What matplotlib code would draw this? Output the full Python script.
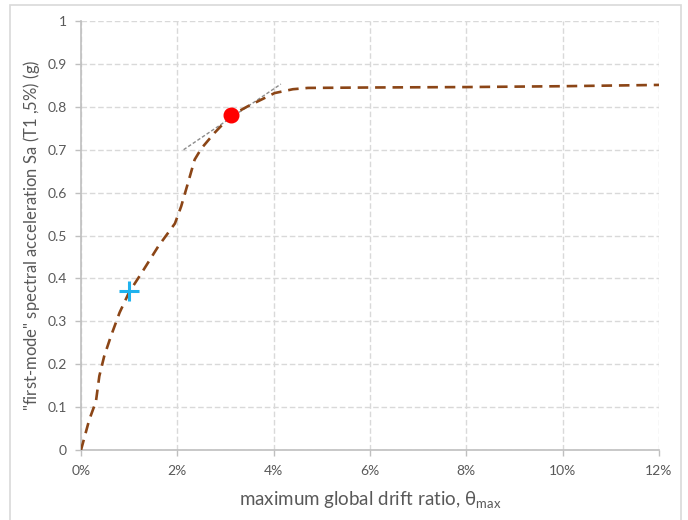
import matplotlib.pyplot as plt
from matplotlib.patches import Rectangle

# pushover-style curve: drift ratio (%) vs Sa (g)
drift = [0, 0.17, 0.31, 0.38, 0.48, 0.62, 0.8, 1.0, 1.26, 1.6, 1.95, 2.08, 2.22, 2.36,
         2.5, 2.77, 3.12, 3.46, 4.02, 4.4, 4.71, 6.0, 8.0, 10.0, 12.0]
sa = [0, 0.07, 0.113, 0.172, 0.218, 0.265, 0.32, 0.368, 0.413, 0.474, 0.528, 0.568, 0.622, 0.677,
      0.703, 0.739, 0.78, 0.801, 0.832, 0.841, 0.844, 0.845, 0.846, 0.848, 0.851]

# tangent line near the capacity point
tan_x = [2.13, 4.15]
tan_y = [0.70, 0.853]

# marked points
cross_x, cross_y = 1.0, 0.37
dot_x, dot_y = 3.12, 0.78

xticks = [0, 2, 4, 6, 8, 10, 12]
yticks = [0, 0.1, 0.2, 0.3, 0.4, 0.5, 0.6, 0.7, 0.8, 0.9, 1.0]
ylabels = ["0", "0.1", "0.2", "0.3", "0.4", "0.5", "0.6", "0.7", "0.8", "0.9", "1"]

plt.rcParams['font.family'] = ['Lato', 'DejaVu Sans']
plt.rcParams['mathtext.fontset'] = 'custom'
plt.rcParams['mathtext.rm'] = 'Lato'

fig = plt.figure(figsize=(6.88, 5.2), dpi=100)
ax = fig.add_axes([81 / 688, 1 - 450 / 520, 578 / 688, 429 / 520])

# chart-area frame
fig.patches.append(Rectangle((10 / 688, -0.05), 671 / 688, 1.04, transform=fig.transFigure,
                             fill=False, edgecolor='#d9d9d9', linewidth=1.2))

ax.plot(drift, sa, color='#8b4516', linewidth=1.9, dashes=(4, 2.6), zorder=3)
ax.plot(tan_x, tan_y, color='#8c8c8c', linewidth=1.0, dashes=(2.5, 1.5), zorder=2)
ax.plot(cross_x, cross_y, marker='+', color='#1fb2ee', markersize=15, markeredgewidth=2.2,
        linestyle='none', zorder=4)
ax.plot(dot_x, dot_y, marker='o', color='#ff0000', markersize=10.5, linestyle='none', zorder=4)

ax.set_xlim(0, 12)
ax.set_ylim(0, 1)
ax.set_xticks(xticks)
ax.set_xticklabels([f"{t}%" for t in xticks])
ax.set_yticks(yticks)
ax.set_yticklabels(ylabels)

ax.grid(True, color='#d9d9d9', linestyle=(0, (4, 2)), linewidth=1.0, zorder=0)
ax.set_axisbelow(True)
for s in ['top', 'right']:
    ax.spines[s].set_visible(False)
for s in ['left', 'bottom']:
    ax.spines[s].set_color('#bfbfbf')
    ax.spines[s].set_linewidth(1.2)
ax.tick_params(axis='both', colors='#bfbfbf', labelcolor='#595959', labelsize=10,
               length=4, width=1)
ax.tick_params(axis='x', pad=7)
ax.tick_params(axis='y', pad=6)

ax.set_xlabel(r"maximum global drift ratio, θ$_{\mathregular{max}}$", fontsize=13.5,
              color='#595959', labelpad=9)
ax.set_ylabel(r'"first-mode" spectral acceleration Sa (T$\mathregular{1}$ ,5%) (g)',
              fontsize=12, color='#595959', labelpad=4)

fig.savefig('out.png', dpi=100)
